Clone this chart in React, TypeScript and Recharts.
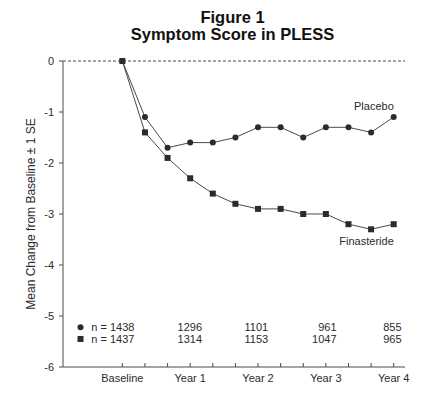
import { LineChart, Line, XAxis, YAxis, ReferenceLine, ReferenceDot, Label } from 'recharts'

// months since baseline, one point every 4 months
const months = [0, 4, 8, 12, 16, 20, 24, 28, 32, 36, 40, 44, 48]
const placebo = [0, -1.1, -1.7, -1.6, -1.6, -1.5, -1.3, -1.3, -1.5, -1.3, -1.3, -1.4, -1.1]
const finasteride = [0, -1.4, -1.9, -2.3, -2.6, -2.8, -2.9, -2.9, -3.0, -3.0, -3.2, -3.3, -3.2]

const yTicks = [0, -1, -2, -3, -4, -5, -6]
const xLabels: Record<number, string> = { 0: 'Baseline', 12: 'Year 1', 24: 'Year 2', 36: 'Year 3', 48: 'Year 4' }

// patients at each yearly visit
const nPlacebo = [1438, 1296, 1101, 961, 855]
const nFinasteride = [1437, 1314, 1153, 1047, 965]

const data = months.map((m, i) => ({ month: m, placebo: placebo[i], finasteride: finasteride[i] }))

const INK = '#2b2b2b'
const LINE = '#4a4a4a'
const FONT = '"Liberation Sans", Arial, sans-serif'

// where the n= rows sit (data coords)
const nRowY = [-5.22, -5.45]
const nColX = [14.1, 25.8, 37.9, 49.4]

const SquareDot = (props: any) => {
  const { cx, cy } = props
  if (cx == null || cy == null) return null
  return <rect x={cx - 3} y={cy - 3} width={6} height={6} fill={INK} />
}

const CircleDot = (props: any) => {
  const { cx, cy } = props
  if (cx == null || cy == null) return null
  return <circle cx={cx} cy={cy} r={3} fill={INK} />
}

const textLabel = (value: string, anchor: 'start' | 'middle' | 'end') => (props: any) => {
  const { viewBox } = props
  if (!viewBox) return null
  return (
    <text x={viewBox.x} y={viewBox.y} dy="0.35em" textAnchor={anchor} fontSize={11} fill={INK} fontFamily={FONT}>
      {value}
    </text>
  )
}

export default function App() {
  return (
    <div style={{ position: 'absolute', left: 0, top: 0, width: 443, height: 399, background: '#fff', fontFamily: FONT }}>
      <div style={{ position: 'absolute', left: 0, width: 465, top: 9, textAlign: 'center', fontWeight: 700, fontSize: 16.5, lineHeight: '17px', color: '#111' }}>
        Figure 1<br />Symptom Score in PLESS
      </div>
      <LineChart width={443} height={399} data={data} margin={{ top: 61, right: 38, left: 0, bottom: 0 }}>
        <XAxis
          dataKey="month"
          type="number"
          domain={[-10.5, 50]}
          ticks={months}
          tickFormatter={(m: number) => xLabels[m] ?? ''}
          height={32}
          tickSize={-4}
          tickMargin={11}
          interval={0}
          stroke={LINE}
          tick={{ fontSize: 11, fill: INK, fontFamily: FONT }}
        />
        <YAxis
          type="number"
          domain={[-6, 0]}
          ticks={yTicks}
          width={63}
          tickSize={4}
          tickMargin={5}
          interval={0}
          stroke={LINE}
          tick={{ fontSize: 11, fill: INK, fontFamily: FONT }}
        >
          <Label
            content={(p: any) => {
              const vb = p.viewBox
              if (!vb) return null
              const x = vb.x + 31
              const y = vb.y + vb.height / 2
              return (
                <text x={x} y={y} transform={`rotate(-90 ${x} ${y})`} textAnchor="middle" dominantBaseline="central" fontSize={12} fill={INK} fontFamily={FONT}>
                  Mean Change from Baseline ± 1 SE
                </text>
              )
            }}
          />
        </YAxis>
        <ReferenceLine y={0} stroke={LINE} strokeDasharray="3 2" />
        <Line dataKey="placebo" stroke={LINE} strokeWidth={1} dot={<CircleDot />} activeDot={false} isAnimationActive={false} />
        <Line dataKey="finasteride" stroke={LINE} strokeWidth={1} dot={<SquareDot />} activeDot={false} isAnimationActive={false} />

        <ReferenceDot x={44.5} y={-0.88} r={0} stroke="none" label={textLabel('Placebo', 'middle')} />
        <ReferenceDot x={43.2} y={-3.53} r={0} stroke="none" label={textLabel('Finasteride', 'middle')} />

        <ReferenceDot x={-7.4} y={nRowY[0]} shape={<CircleDot />} />
        <ReferenceDot x={-7.4} y={nRowY[1]} shape={<SquareDot />} />
        <ReferenceDot x={-5.5} y={nRowY[0]} r={0} stroke="none" label={textLabel(`n = ${nPlacebo[0]}`, 'start')} />
        <ReferenceDot x={-5.5} y={nRowY[1]} r={0} stroke="none" label={textLabel(`n = ${nFinasteride[0]}`, 'start')} />
        {nColX.map((x, i) => (
          <ReferenceDot key={`p${i}`} x={x} y={nRowY[0]} r={0} stroke="none" label={textLabel(String(nPlacebo[i + 1]), 'end')} />
        ))}
        {nColX.map((x, i) => (
          <ReferenceDot key={`f${i}`} x={x} y={nRowY[1]} r={0} stroke="none" label={textLabel(String(nFinasteride[i + 1]), 'end')} />
        ))}
      </LineChart>
    </div>
  )
}
